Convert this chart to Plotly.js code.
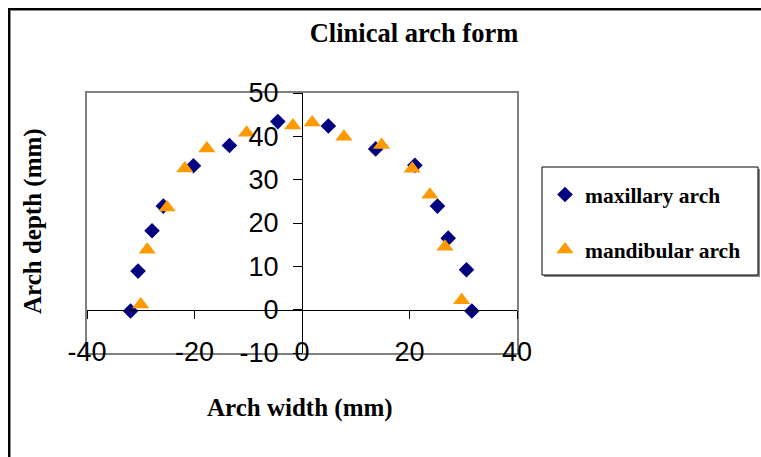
<!DOCTYPE html>
<html>
<head>
<meta charset="utf-8">
<script src="https://cdn.plot.ly/plotly-3.0.1.min.js"></script>
<style>
html,body{margin:0;padding:0;background:#fff;}
#wrap{position:relative;width:761px;height:457px;overflow:hidden;}
#chart{width:761px;height:457px;}
#frame{position:absolute;left:8px;top:8px;width:800px;height:500px;border-left:2px solid #000;border-top:2px solid #000;pointer-events:none;box-shadow:inset 1px 1px 0 #888;}
</style>
</head>
<body>
<div id="wrap"><div id="chart"></div><div id="frame"></div></div>
<script>
// Maxillary arch (diamonds)
const maxX = [-31.9, -30.5, -27.9, -25.8, -20.2, -13.5, -4.5, 4.9, 13.7, 21.0, 25.2, 27.2, 30.6, 31.6];
const maxY = [-0.3, 8.9, 18.2, 23.9, 33.2, 37.9, 43.4, 42.4, 37.1, 33.3, 23.9, 16.5, 9.2, -0.3];
// Mandibular arch (triangles)
const manX = [-30.0, -28.8, -25.1, -21.8, -17.7, -10.3, -1.7, 1.9, 7.8, 14.8, 20.5, 23.8, 26.6, 29.7];
const manY = [1.2, 13.8, 23.6, 32.6, 37.2, 40.8, 42.5, 43.2, 39.9, 38.0, 32.5, 26.5, 14.5, 2.2];
const xTicks = [-40, -20, 0, 20, 40];
const yTicks = [-10, 0, 10, 20, 30, 40, 50];
const xRange = [-40, 40];
const yRange = [-10, 50];

const W = 761, H = 457;
const L = 87, R = 517, T = 93, B = 353;
const serif = 'Liberation Serif, Times New Roman, serif';
const sans = 'Liberation Sans, Arial, sans-serif';

const traces = [
  {x: maxX, y: maxY, type: 'scatter', mode: 'markers', name: '<b>maxillary arch</b>', legendgroup: 'a',
   marker: {symbol: 'diamond', size: 12, color: '#000080'}},
  {x: manX, y: manY, type: 'scatter', mode: 'markers', name: '<b>mandibular arch</b>', legendgroup: 'b',
   marker: {symbol: 'triangle-up', size: 15, color: '#FF9900'}},
  // empty trace so the zero-crossing axes (x2/y2) are drawn
  {x: [], y: [], type: 'scatter', mode: 'markers', xaxis: 'x2', yaxis: 'y2', showlegend: false, hoverinfo: 'skip'}
];

const yZeroFrac = (0 - yRange[0]) / (yRange[1] - yRange[0]);
const xZeroFrac = (0 - xRange[0]) / (xRange[1] - xRange[0]);
const pw = R - L, ph = B - T;
function px2fx(p){ return (p - L) / pw; }
function py2fy(p){ return (B - p) / ph; }

const layout = {
  width: W, height: H,
  margin: {l: L, r: W - R, t: T, b: H - B, pad: 0},
  paper_bgcolor: '#fff', plot_bgcolor: '#fff',
  showlegend: true,
  title: {text: '<b>Clinical arch form</b>', font: {family: serif, size: 26.5, color: '#000'},
          xref: 'container', x: 414 / W, xanchor: 'center', yref: 'container', y: 1 - 33 / H, yanchor: 'middle'},
  xaxis: {range: xRange, tickvals: xTicks, ticktext: xTicks.map(String), showgrid: false, zeroline: false,
          showline: true, mirror: true, linecolor: '#808080', linewidth: 2, ticks: '',
          tickfont: {family: sans, size: 27, color: '#000'}, ticklabelstandoff: -26, fixedrange: true},
  yaxis: {range: yRange, showgrid: false, zeroline: false, showline: true, mirror: true,
          linecolor: '#808080', linewidth: 2, ticks: '', showticklabels: false, fixedrange: true},
  xaxis2: {range: xRange, overlaying: 'x', anchor: 'free', position: yZeroFrac, side: 'bottom',
           tickvals: xTicks, showticklabels: false, ticks: 'outside', ticklen: 8, tickcolor: '#000',
           showline: true, linecolor: '#000', linewidth: 1, showgrid: false, zeroline: false, fixedrange: true},
  yaxis2: {range: yRange, overlaying: 'y', anchor: 'free', position: xZeroFrac, side: 'left',
           tickvals: yTicks, ticktext: yTicks.map(String), ticks: 'outside', ticklen: 9, tickcolor: '#000',
           showline: true, linecolor: '#000', linewidth: 1, showgrid: false, zeroline: false,
           tickfont: {family: sans, size: 27, color: '#000'}, ticklabelstandoff: 9, fixedrange: true},
  legend: {x: px2fx(545), y: py2fy(174), xanchor: 'left', yanchor: 'top', bgcolor: 'rgba(0,0,0,0)',
           borderwidth: 0, font: {family: serif, size: 21.5, color: '#000'}, tracegroupgap: 24},
  shapes: [
    {type: 'rect', xref: 'paper', yref: 'paper', x0: px2fx(544), x1: px2fx(760), y0: py2fy(277), y1: py2fy(169),
     line: {width: 0}, fillcolor: '#888', layer: 'below'},
    {type: 'rect', xref: 'paper', yref: 'paper', x0: px2fx(542), x1: px2fx(758), y0: py2fy(275), y1: py2fy(167),
     line: {width: 1, color: '#000'}, fillcolor: '#fff', layer: 'below'}
  ],
  annotations: [
    {text: '<b>Arch width (mm)</b>', xref: 'paper', yref: 'paper', x: px2fx(300), y: py2fy(408),
     xanchor: 'center', yanchor: 'middle', showarrow: false, font: {family: serif, size: 25, color: '#000'}},
    {text: '<b>Arch depth (mm)</b>', xref: 'paper', yref: 'paper', x: px2fx(33), y: py2fy(221),
     xanchor: 'center', yanchor: 'middle', textangle: -90, showarrow: false, font: {family: serif, size: 25, color: '#000'}}
  ]
};

Plotly.newPlot('chart', traces, layout, {displayModeBar: false, staticPlot: true});
</script>
</body>
</html>
